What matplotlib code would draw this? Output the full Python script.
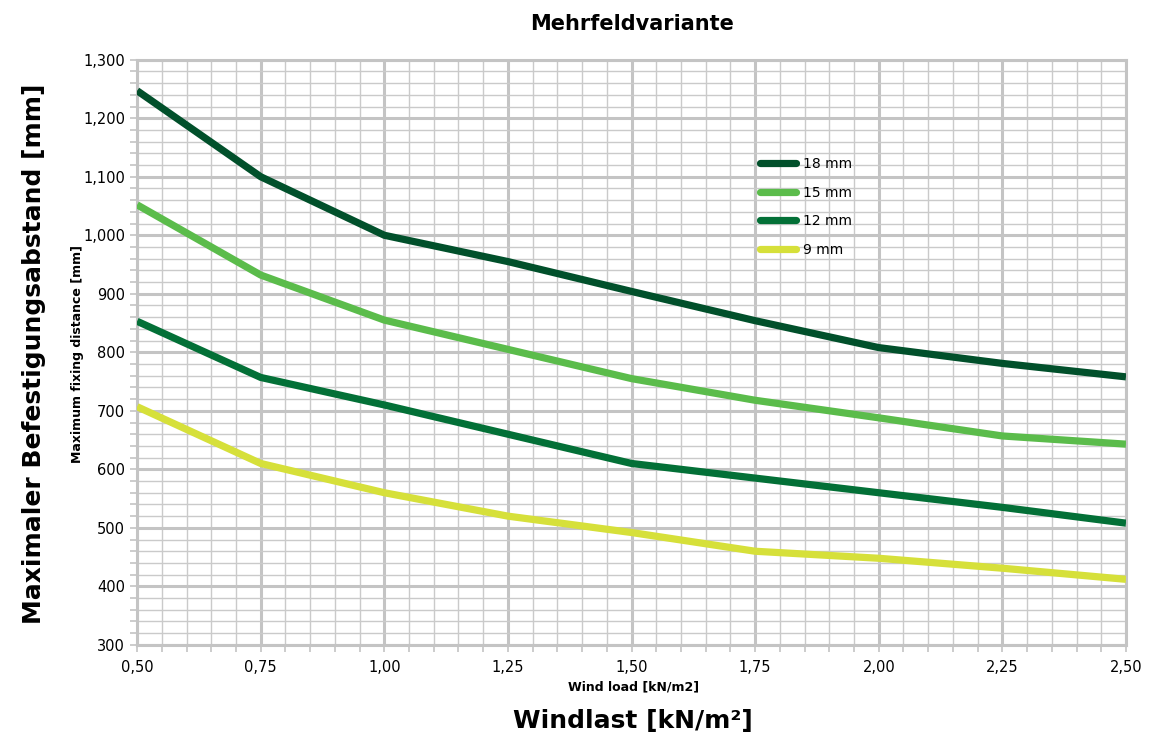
import matplotlib.pyplot as plt
from matplotlib.ticker import MultipleLocator, FuncFormatter

# wind load [kN/m2]
wind = [0.50, 0.75, 1.00, 1.25, 1.50, 1.75, 2.00, 2.25, 2.50]

# max fixing distance [mm] per board thickness
mm18 = [1247, 1100, 1000, 955, 904, 854, 808, 781, 758]
mm15 = [1052, 932, 855, 805, 755, 718, 688, 657, 643]
mm12 = [853, 757, 710, 660, 610, 585, 560, 535, 508]
mm9 = [707, 610, 560, 520, 492, 460, 448, 431, 412]

labels = ["18 mm", "15 mm", "12 mm", "9 mm"]
colors = ["#01502b", "#5bbc4b", "#037037", "#d6e03a"]

fig = plt.figure(figsize=(11.62, 7.37), dpi=100)
ax = fig.add_axes([0.118, 0.125, 0.851, 0.794])

for y, lab, c in zip([mm18, mm15, mm12, mm9], labels, colors):
    ax.plot(wind, y, color=c, lw=5.2, label=lab, solid_capstyle="butt",
            solid_joinstyle="round", zorder=3)

ax.set_xlim(0.5, 2.5)
ax.set_ylim(300, 1300)
ax.xaxis.set_major_locator(MultipleLocator(0.25))
ax.xaxis.set_minor_locator(MultipleLocator(0.05))
ax.yaxis.set_major_locator(MultipleLocator(100))
ax.yaxis.set_minor_locator(MultipleLocator(20))
ax.xaxis.set_major_formatter(FuncFormatter(lambda v, p: f"{v:.2f}".replace(".", ",")))
ax.yaxis.set_major_formatter(FuncFormatter(lambda v, p: f"{int(v):,}"))

ax.grid(which="major", color="#c4c4c4", lw=2.2, zorder=1)
ax.grid(which="minor", color="#cacaca", lw=1.0, zorder=1)
for s in ax.spines.values():
    s.set_color("#c4c4c4")
    s.set_linewidth(2.2)
ax.tick_params(which="both", color="#c4c4c4", labelsize=10.5, length=5, width=1.2)
ax.tick_params(axis="x", which="both", pad=6)

fig.text(0.544, 0.968, "Mehrfeldvariante", ha="center", va="center",
         fontsize=15, fontweight="bold")
fig.text(0.545, 0.068, "Wind load [kN/m2]", ha="center", va="center",
         fontsize=9, fontweight="bold")
fig.text(0.545, 0.022, "Windlast [kN/m²]", ha="center", va="center",
         fontsize=18, fontweight="bold")
fig.text(0.029, 0.52, "Maximaler Befestigungsabstand [mm]", rotation=90,
         ha="center", va="center", fontsize=18, fontweight="bold")
fig.text(0.067, 0.52, "Maximum fixing distance [mm]", rotation=90,
         ha="center", va="center", fontsize=9, fontweight="bold")

leg = ax.legend(loc="upper left", bbox_to_anchor=(0.617, 0.855), frameon=False,
                fontsize=10, handlelength=2.6, labelspacing=1.05, handletextpad=0.5)
for h in leg.get_lines():
    h.set_solid_capstyle("round")

plt.savefig("out.png", dpi=100)
